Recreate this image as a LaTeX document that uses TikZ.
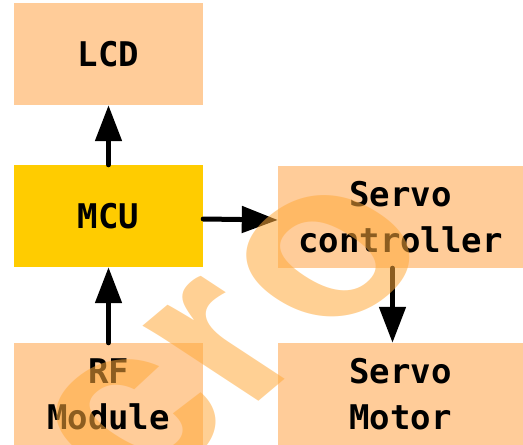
\documentclass[tikz,border=0pt]{standalone}
\usepackage{fontspec}
\setmonofont{DejaVu Sans Mono}
\newfontfamily\markfont{Liberation Sans}
\usepackage{tikz}
\usetikzlibrary{arrows.meta,positioning}
\definecolor{peach}{RGB}{255,204,153}
\definecolor{gold}{RGB}{255,204,0}
\definecolor{markorange}{RGB}{255,170,60}
\tikzset{
  blockbox/.style={fill=peach, draw=none, minimum width=189pt, minimum height=102pt,
    align=center, inner sep=0pt, font=\ttfamily\bfseries\fontsize{34}{46}\selectfont},
  flow/.style={line width=5pt, line cap=round, -{Triangle[length=36pt,width=26pt]}},
}

\begin{document}
\begin{tikzpicture}[x=1pt, y=-1pt]
\useasboundingbox (0,0) rectangle (523,445);

%% Left column
\node[blockbox] (lcd) at (108.5,54) {LCD};
\node[blockbox, fill=gold] (mcu) at (108.5,216) {MCU};
\node[blockbox] (rf) at (108.5,394) {RF\\Module};

%% Right column
\node[blockbox, minimum width=245pt] (ctrl) at (400.5,217) {Servo\\controller};
\node[blockbox, minimum width=245pt] (motor) at (400.5,394) {Servo\\Motor};

%% Arrows
\draw[flow] (mcu.north) -- (lcd.south);
\draw[flow] (rf.north) -- (mcu.south);
\draw[flow] ([yshift=-3pt]mcu.east) -- ([yshift=-3pt]ctrl.west);
\draw[flow] ([xshift=-8pt]ctrl.south) -- ([xshift=-8pt]motor.north);

%% Watermark
\node[transform shape, rotate=40, xslant=-0.3, text=markorange, opacity=0.55,
  inner sep=0pt, font=\markfont\bfseries\fontsize{250}{250}\selectfont]
  (mark) at (234,336) {cr\kern10pt o};

\end{tikzpicture}
\end{document}
